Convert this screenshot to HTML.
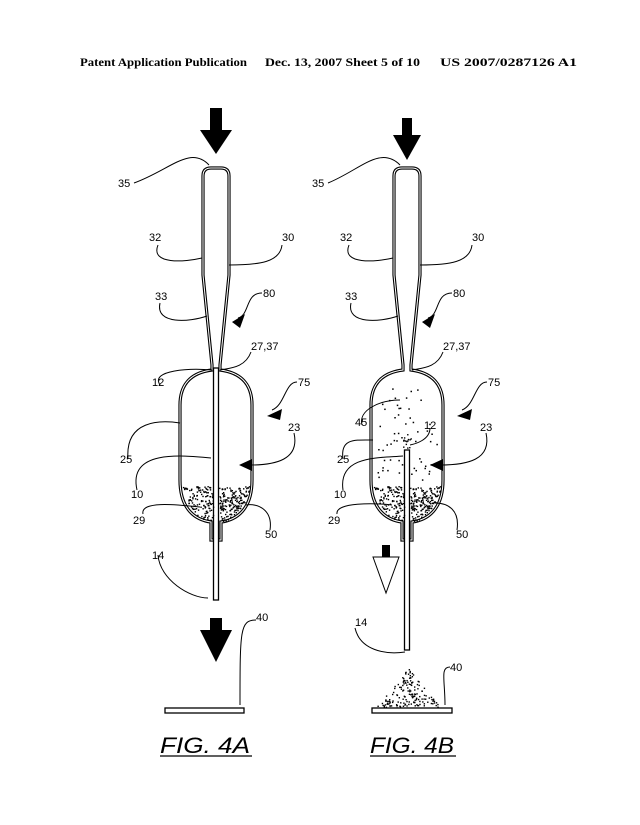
<!DOCTYPE html>
<html><head><meta charset="utf-8"><style>
html,body{margin:0;padding:0;background:#fff}
svg{display:block}
text{font-family:"Liberation Sans",sans-serif;font-size:11px;fill:#000}
.h{font-family:"Liberation Serif",serif;font-weight:bold;font-size:11.5px}
.cap{font-style:italic;font-size:22px}
</style></head><body>
<svg id="s" width="640" height="825" viewBox="0 0 640 825" xmlns="http://www.w3.org/2000/svg">
<text class="h" x="80" y="66" textLength="167" lengthAdjust="spacingAndGlyphs">Patent Application Publication</text>
<text class="h" x="265" y="66" textLength="155" lengthAdjust="spacingAndGlyphs">Dec. 13, 2007  Sheet 5 of 10</text>
<text class="h" x="440" y="66" textLength="137" lengthAdjust="spacingAndGlyphs">US 2007/0287126 A1</text>

<defs>
<g id="body">
<path d="M-13,176 Q-13,168 -5,168 L5,168 Q13,168 13,176 L13,275 L4,365 L4,370 C20,372 36,380 36,405 L36,480 C36,510 20,520 5,522 L5,540 L-5,540 L-5,522 C-20,520 -36,510 -36,480 L-36,405 C-36,380 -20,372 -4,370 L-4,365 L-13,275 Z" fill="#fff" stroke="#000" stroke-width="3.2"/>
<path d="M-13,176 Q-13,168 -5,168 L5,168 Q13,168 13,176 L13,275 L4,365 L4,370 C20,372 36,380 36,405 L36,480 C36,510 20,520 5,522 L5,540 L-5,540 L-5,522 C-20,520 -36,510 -36,480 L-36,405 C-36,380 -20,372 -4,370 L-4,365 L-13,275 Z" fill="none" stroke="#fff" stroke-width="1"/>
</g>
</defs>

<g transform="translate(216,0)">
<use href="#body"/>
<rect x="-2.5" y="368" width="5" height="232" fill="#fff" stroke="#000" stroke-width="1.3"/>
<g id="dotsA"></g>
<rect x="-6" y="108" width="12" height="22" fill="#000"/>
<polygon points="-16,130 16,130 0,154" fill="#000"/>
<rect x="-6" y="618" width="12" height="13" fill="#000"/>
<polygon points="-16,630 16,630 0,662" fill="#000"/>
<rect x="-51" y="708" width="79" height="5" fill="#fff" stroke="#000" stroke-width="1.3"/>
</g>

<g transform="translate(407,0)">
<use href="#body"/>
<rect x="-2.5" y="450" width="5" height="200" fill="#fff" stroke="#000" stroke-width="1.3"/>
<g id="dotsB"></g>
<rect x="-5" y="118" width="10" height="17" fill="#000"/>
<polygon points="-14,135 14,135 0,160" fill="#000"/>
<rect x="-25" y="545" width="8" height="13" fill="#000"/>
<polygon points="-34,557 -8,557 -21,593" fill="#fff" stroke="#000" stroke-width="1"/>
<g id="pile"></g>
<rect x="-35" y="708" width="80" height="5" fill="#fff" stroke="#000" stroke-width="1.3"/>
</g>

<g fill="none" stroke="#000" stroke-width="1">
<path d="M134,183 C170,170 190,145 209,165"/>
<path d="M158,245 C150,265 185,262 202,258"/>
<path d="M282,245 C280,262 260,265 229,265"/>
<path d="M160,303 C155,325 190,322 207,316"/>
<path d="M262,293 C245,293 250,315 238,318"/>
<path d="M251,352 C245,368 230,368 220,370"/>
<path d="M160,385 C150,370 190,368 212,370"/>
<path d="M297,382 C285,382 285,405 272,410"/>
<path d="M294,433 C300,460 275,465 250,465"/>
<path d="M128,459 C125,420 160,420 180,423"/>
<path d="M137,490 C128,450 180,455 211,458"/>
<path d="M143,514 C140,500 180,505 200,507"/>
<path d="M270,530 C273,510 258,503 246,505"/>
<path d="M158,555 C160,580 190,598 208,598"/>
<path d="M256,620 C240,620 240,630 240,705"/>
<path d="M328,183 C360,170 380,145 400,165"/>
<path d="M349,245 C341,265 376,262 393,258"/>
<path d="M472,245 C470,262 450,265 420,265"/>
<path d="M351,303 C346,325 381,322 398,316"/>
<path d="M452,293 C435,293 440,315 428,318"/>
<path d="M443,352 C437,368 422,368 412,370"/>
<path d="M487,382 C475,382 475,405 462,410"/>
<path d="M362,425 C358,410 380,400 400,400"/>
<path d="M430,428 C430,440 415,444 410,445"/>
<path d="M486,433 C492,460 467,465 440,465"/>
<path d="M343,459 C340,438 355,440 373,440"/>
<path d="M343,490 C338,455 380,458 403,456"/>
<path d="M337,514 C335,502 375,503 392,505"/>
<path d="M457,530 C460,510 448,503 435,503"/>
<path d="M355,628 C360,650 385,655 405,652"/>
<path d="M450,667 C440,667 445,680 445,705"/>
</g>
<polygon points="232,322 245,314 240,328" fill="#000"/>
<polygon points="267,416 282,409 280,420" fill="#000"/>
<polygon points="239,465 252,459 252,471" fill="#000"/>
<polygon points="422,322 435,314 430,328" fill="#000"/>
<polygon points="457,416 472,409 470,420" fill="#000"/>
<polygon points="430,465 443,459 443,471" fill="#000"/>

<text x="118" y="187">35</text><text x="149" y="241">32</text><text x="282" y="241">30</text>
<text x="155" y="300">33</text><text x="263" y="297">80</text><text x="251" y="350">27,37</text>
<text x="152" y="386">12</text><text x="298" y="386">75</text><text x="288" y="431">23</text>
<text x="120" y="463">25</text><text x="131" y="498">10</text><text x="133" y="524">29</text>
<text x="265" y="538">50</text><text x="152" y="559">14</text><text x="256" y="621">40</text>
<text x="312" y="187">35</text><text x="340" y="241">32</text><text x="472" y="241">30</text>
<text x="345" y="300">33</text><text x="453" y="297">80</text><text x="443" y="350">27,37</text>
<text x="488" y="386">75</text><text x="355" y="426">45</text><text x="424" y="429">12</text>
<text x="480" y="431">23</text><text x="337" y="463">25</text><text x="334" y="498">10</text>
<text x="328" y="524">29</text><text x="456" y="538">50</text><text x="355" y="626">14</text>
<text x="450" y="671">40</text>

<text class="cap" x="160" y="753" textLength="90" lengthAdjust="spacingAndGlyphs">FIG. 4A</text>
<line x1="160" y1="756" x2="252" y2="756" stroke="#000" stroke-width="1.3"/>
<text class="cap" x="370" y="753" textLength="84" lengthAdjust="spacingAndGlyphs">FIG. 4B</text>
<line x1="370" y1="756" x2="456" y2="756" stroke="#000" stroke-width="1.3"/>
</svg>
<script>
(function(){
var ns="http://www.w3.org/2000/svg",seed=7;
function r(){seed=(seed*16807)%2147483647;return seed/2147483647;}
function dot(g,x,y,s){var e=document.createElementNS(ns,"rect");e.setAttribute("x",x);e.setAttribute("y",y);e.setAttribute("width",s);e.setAttribute("height",s);e.setAttribute("fill","#000");g.appendChild(e);}
function inBottom(x,y){if(y<486||y>521)return false;if(y<=480)return Math.abs(x)<34;var t=(y-480)/42;var w=34*Math.sqrt(Math.max(0,1-t*t));return Math.abs(x)<w;}
var A=document.getElementById("dotsA"),B=document.getElementById("dotsB"),P=document.getElementById("pile");
for(var i=0;i<3000;i++){var x=-36+r()*72,y=484+r()*38;if(inBottom(x,y)&&Math.abs(x)>3&&r()<0.17){dot(A,x,y,1.4);dot(B,x,y,1.4);}}
for(var i=0;i<70;i++){var x=-30+r()*60,y=385+r()*95;if(y<400&&Math.abs(x)>30-(400-y))continue;if(Math.abs(x)<4&&y>448)continue;dot(B,x,y,1.5);}
for(var i=0;i<14;i++){dot(B,-6+r()*10,432+r()*16,1.4);}
var n=0;while(n<170){var x=-33+r()*66,y=668+r()*40,t=(y-668)/40;if(Math.abs(x-1)<=33*t){dot(P,x,y,1.4);n++;}}
})();
</script>
</body></html>
